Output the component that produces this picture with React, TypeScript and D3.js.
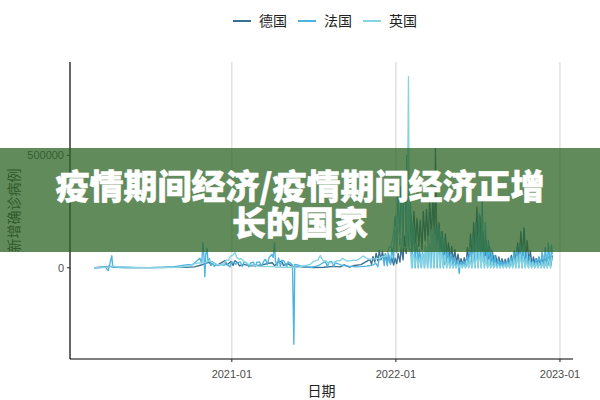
import * as d3 from 'd3'

type Pt = [string, number]

// 每日新增确诊病例（单位：千例）
const germany: Pt[] = [
  ['2020-03-01', 0], ['2020-03-20', 3], ['2020-04-02', 6], ['2020-04-20', 2], ['2020-05-15', 0.5],
  ['2020-07-01', 0.4], ['2020-08-15', 1.5], ['2020-09-20', 2], ['2020-10-10', 4], ['2020-10-25', 12],
  ['2020-11-05', 20], ['2020-11-12', 24], ['2020-11-16', 10], ['2020-11-20', 23], ['2020-11-30', 12],
  ['2020-12-10', 24], ['2020-12-17', 32], ['2020-12-21', 12], ['2020-12-30', 28], ['2021-01-04', 10],
  ['2021-01-08', 31], ['2021-01-14', 22], ['2021-01-18', 8], ['2021-01-28', 15], ['2021-02-10', 8],
  ['2021-02-25', 10], ['2021-03-10', 13], ['2021-03-24', 20], ['2021-04-01', 22], ['2021-04-06', 9],
  ['2021-04-15', 26], ['2021-04-22', 29], ['2021-04-26', 10], ['2021-05-05', 18], ['2021-05-17', 5],
  ['2021-05-27', 6], ['2021-06-10', 3], ['2021-07-01', 0.8], ['2021-07-25', 2], ['2021-08-15', 6],
  ['2021-08-30', 4], ['2021-09-08', 13], ['2021-09-20', 3], ['2021-10-01', 10], ['2021-10-15', 14],
  ['2021-10-28', 28], ['2021-11-04', 37], ['2021-11-08', 15], ['2021-11-11', 50], ['2021-11-15', 25],
  ['2021-11-18', 65], ['2021-11-22', 30], ['2021-11-25', 76], ['2021-11-29', 35], ['2021-12-02', 73],
  ['2021-12-06', 28], ['2021-12-09', 60], ['2021-12-13', 20], ['2021-12-16', 55], ['2021-12-20', 18],
  ['2021-12-23', 44], ['2021-12-27', 12], ['2021-12-30', 42],
  ['2022-01-03', 18], ['2022-01-06', 64], ['2022-01-10', 25], ['2022-01-13', 92], ['2022-01-17', 35],
  ['2022-01-20', 140], ['2022-01-24', 63], ['2022-01-27', 190], ['2022-01-31', 80], ['2022-02-03', 235],
  ['2022-02-07', 95], ['2022-02-10', 250], ['2022-02-14', 110], ['2022-02-17', 220], ['2022-02-21', 95],
  ['2022-02-24', 210], ['2022-02-28', 80], ['2022-03-03', 250], ['2022-03-07', 120], ['2022-03-10', 260],
  ['2022-03-14', 110], ['2022-03-17', 300], ['2022-03-21', 125], ['2022-03-24', 320], ['2022-03-28', 130],
  ['2022-03-30', 530], ['2022-04-01', 220], ['2022-04-04', 90], ['2022-04-07', 200], ['2022-04-11', 60],
  ['2022-04-14', 160], ['2022-04-18', 15], ['2022-04-21', 150], ['2022-04-25', 45], ['2022-04-28', 110],
  ['2022-05-02', 30], ['2022-05-05', 95], ['2022-05-09', 25], ['2022-05-12', 80], ['2022-05-16', 20],
  ['2022-05-19', 60], ['2022-05-23', 15], ['2022-05-26', 40], ['2022-05-30', 12], ['2022-06-02', 45],
  ['2022-06-06', 8], ['2022-06-09', 90], ['2022-06-13', 20], ['2022-06-16', 150], ['2022-06-20', 30],
  ['2022-06-23', 200], ['2022-06-27', 40], ['2022-06-30', 270], ['2022-07-04', 35], ['2022-07-07', 230],
  ['2022-07-11', 30], ['2022-07-14', 160], ['2022-07-18', 25], ['2022-07-21', 120], ['2022-07-25', 20],
  ['2022-07-28', 95], ['2022-08-01', 15], ['2022-08-04', 70], ['2022-08-08', 12], ['2022-08-11', 55],
  ['2022-08-15', 10], ['2022-08-18', 48], ['2022-08-22', 10], ['2022-08-25', 40], ['2022-08-29', 8],
  ['2022-09-01', 38], ['2022-09-05', 8], ['2022-09-08', 42], ['2022-09-12', 10], ['2022-09-15', 55],
  ['2022-09-19', 14], ['2022-09-22', 75], ['2022-09-26', 22], ['2022-09-29', 110], ['2022-10-03', 30],
  ['2022-10-06', 160], ['2022-10-10', 45], ['2022-10-13', 178], ['2022-10-17', 35], ['2022-10-20', 120],
  ['2022-10-24', 22], ['2022-10-27', 75], ['2022-10-31', 12], ['2022-11-03', 48], ['2022-11-07', 9],
  ['2022-11-10', 40], ['2022-11-14', 8], ['2022-11-17', 35], ['2022-11-21', 6], ['2022-11-24', 36],
  ['2022-11-28', 7], ['2022-12-01', 40], ['2022-12-05', 10], ['2022-12-08', 50], ['2022-12-12', 12],
  ['2022-12-15', 55],
]

const france: Pt[] = [
  ['2020-03-01', 0], ['2020-03-15', 1], ['2020-03-25', 4], ['2020-04-01', -13], ['2020-04-03', 5],
  ['2020-04-09', 53], ['2020-04-11', 3], ['2020-04-20', 2], ['2020-05-10', 1], ['2020-06-01', 0.5],
  ['2020-07-01', 0.5], ['2020-08-01', 2], ['2020-08-25', 5], ['2020-09-10', 9], ['2020-09-25', 14],
  ['2020-10-05', 12], ['2020-10-15', 30], ['2020-10-22', 42], ['2020-10-26', 20], ['2020-10-29', 111],
  ['2020-10-31', 50], ['2020-11-02', -40], ['2020-11-04', 60], ['2020-11-07', 86], ['2020-11-09', 25],
  ['2020-11-12', 40], ['2020-11-16', 10], ['2020-11-19', 28], ['2020-11-23', 5], ['2020-11-27', 13],
  ['2020-12-01', 9], ['2020-12-05', 13], ['2020-12-10', 14], ['2020-12-15', 11], ['2020-12-18', 17],
  ['2020-12-22', 15], ['2020-12-28', 3], ['2020-12-31', 25],
  ['2021-01-06', 25], ['2021-01-10', 15], ['2021-01-15', 23], ['2021-01-20', 26], ['2021-01-24', 5],
  ['2021-01-28', 25], ['2021-02-02', 24], ['2021-02-08', 4], ['2021-02-12', 21], ['2021-02-18', 25],
  ['2021-02-22', 5], ['2021-02-26', 25], ['2021-03-04', 26], ['2021-03-08', 5], ['2021-03-13', 29],
  ['2021-03-17', 38], ['2021-03-21', 15], ['2021-03-25', 45], ['2021-03-31', 59], ['2021-04-03', 46],
  ['2021-04-06', 111], ['2021-04-08', 30], ['2021-04-12', 8], ['2021-04-15', 44], ['2021-04-19', 6],
  ['2021-04-22', 33], ['2021-04-27', 30], ['2021-05-03', 4], ['2021-05-06', 26], ['2021-05-12', 19],
  ['2021-05-16', 12], ['2021-05-19', -340], ['2021-05-21', 15], ['2021-05-27', 13], ['2021-06-03', 8],
  ['2021-06-10', 6], ['2021-06-17', 3], ['2021-06-28', 2], ['2021-07-08', 7], ['2021-07-15', 12],
  ['2021-07-22', 21], ['2021-07-28', 27], ['2021-08-02', 5], ['2021-08-05', 25], ['2021-08-11', 28],
  ['2021-08-16', 6], ['2021-08-19', 22], ['2021-08-26', 17], ['2021-09-02', 11], ['2021-09-09', 9],
  ['2021-09-16', 7], ['2021-09-23', 6], ['2021-10-05', 4], ['2021-10-15', 5], ['2021-10-28', 7],
  ['2021-11-05', 10], ['2021-11-12', 13], ['2021-11-17', 20], ['2021-11-22', 5], ['2021-11-24', 32],
  ['2021-11-30', 47], ['2021-12-03', 50], ['2021-12-06', 10], ['2021-12-08', 62], ['2021-12-13', 8],
  ['2021-12-15', 65], ['2021-12-20', 15], ['2021-12-23', 90], ['2021-12-27', 30], ['2021-12-29', 208],
  ['2021-12-31', 230],
  ['2022-01-03', 67], ['2022-01-05', 335], ['2022-01-07', 260], ['2022-01-10', 100], ['2022-01-12', 360],
  ['2022-01-14', 300], ['2022-01-17', 100], ['2022-01-19', 430], ['2022-01-21', 400], ['2022-01-24', 100],
  ['2022-01-25', 500], ['2022-01-27', 390], ['2022-01-31', 90], ['2022-02-02', 300], ['2022-02-04', 200],
  ['2022-02-06', 0], ['2022-02-08', 200], ['2022-02-10', 160], ['2022-02-13', 0], ['2022-02-15', 110],
  ['2022-02-17', 100], ['2022-02-20', 0], ['2022-02-22', 80], ['2022-02-24', 60], ['2022-02-27', 0],
  ['2022-03-01', 70], ['2022-03-03', 55], ['2022-03-06', 0], ['2022-03-08', 80], ['2022-03-10', 75],
  ['2022-03-13', 0], ['2022-03-15', 110], ['2022-03-17', 90], ['2022-03-20', 0], ['2022-03-22', 150],
  ['2022-03-24', 150], ['2022-03-27', 0], ['2022-03-29', 180], ['2022-03-31', 170], ['2022-04-03', 0],
  ['2022-04-05', 190], ['2022-04-07', 170], ['2022-04-10', 0], ['2022-04-12', 160], ['2022-04-14', 130],
  ['2022-04-17', 0], ['2022-04-19', 130], ['2022-04-21', 100], ['2022-04-24', 0], ['2022-04-26', 80],
  ['2022-04-28', 60], ['2022-05-01', 0], ['2022-05-03', 60], ['2022-05-05', 45], ['2022-05-08', 0],
  ['2022-05-10', 45], ['2022-05-12', 35], ['2022-05-15', 0], ['2022-05-17', 30], ['2022-05-19', 25],
  ['2022-05-22', -25], ['2022-05-24', 25], ['2022-05-26', 20], ['2022-05-29', 0], ['2022-05-31', 30],
  ['2022-06-02', 25], ['2022-06-05', 0], ['2022-06-07', 40], ['2022-06-09', 50], ['2022-06-12', 0],
  ['2022-06-14', 90], ['2022-06-16', 90], ['2022-06-19', 0], ['2022-06-21', 150], ['2022-06-23', 110],
  ['2022-06-26', 0], ['2022-06-28', 200], ['2022-06-30', 140], ['2022-07-03', 0], ['2022-07-05', 240],
  ['2022-07-07', 140], ['2022-07-10', 0], ['2022-07-12', 316], ['2022-07-14', 100], ['2022-07-17', 0],
  ['2022-07-19', 200], ['2022-07-21', 90], ['2022-07-24', 0], ['2022-07-26', 120], ['2022-07-28', 60],
  ['2022-07-31', 0], ['2022-08-02', 80], ['2022-08-04', 40], ['2022-08-07', 0], ['2022-08-09', 55],
  ['2022-08-11', 30], ['2022-08-14', 0], ['2022-08-16', 40], ['2022-08-18', 25], ['2022-08-21', 0],
  ['2022-08-23', 30], ['2022-08-25', 20], ['2022-08-28', 0], ['2022-08-30', 30], ['2022-09-01', 20],
  ['2022-09-04', 0], ['2022-09-06', 35], ['2022-09-08', 22], ['2022-09-11', 0], ['2022-09-13', 50],
  ['2022-09-15', 35], ['2022-09-18', 0], ['2022-09-20', 70], ['2022-09-22', 50], ['2022-09-25', 0],
  ['2022-09-27', 90], ['2022-09-29', 60], ['2022-10-02', 0], ['2022-10-04', 110], ['2022-10-06', 70],
  ['2022-10-09', 0], ['2022-10-11', 100], ['2022-10-13', 60], ['2022-10-16', 0], ['2022-10-18', 70],
  ['2022-10-20', 40], ['2022-10-23', 0], ['2022-10-25', 50], ['2022-10-27', 30], ['2022-10-30', 0],
  ['2022-11-01', 30], ['2022-11-03', 25], ['2022-11-06', 0], ['2022-11-08', 40], ['2022-11-10', 30],
  ['2022-11-13', 0], ['2022-11-15', 50], ['2022-11-17', 40], ['2022-11-20', 0], ['2022-11-22', 70],
  ['2022-11-24', 55], ['2022-11-27', 0], ['2022-11-29', 90], ['2022-12-01', 60], ['2022-12-04', 0],
  ['2022-12-06', 110], ['2022-12-08', 70], ['2022-12-11', 0], ['2022-12-13', 100], ['2022-12-15', 60],
]

const uk: Pt[] = [
  ['2020-03-01', 0], ['2020-03-20', 1], ['2020-04-05', 5], ['2020-04-10', 8], ['2020-04-20', 4],
  ['2020-05-10', 3], ['2020-06-01', 1.5], ['2020-07-01', 0.6], ['2020-08-01', 0.8], ['2020-09-01', 1.5],
  ['2020-09-15', 4], ['2020-09-28', 7], ['2020-10-05', 15], ['2020-10-15', 19], ['2020-10-22', 22],
  ['2020-10-29', 24], ['2020-11-05', 25], ['2020-11-12', 33], ['2020-11-20', 21], ['2020-11-30', 13],
  ['2020-12-08', 14], ['2020-12-15', 19], ['2020-12-20', 35], ['2020-12-25', 32], ['2020-12-29', 53],
  ['2021-01-01', 53], ['2021-01-04', 58], ['2021-01-08', 68], ['2021-01-12', 45], ['2021-01-17', 38],
  ['2021-01-22', 40], ['2021-01-28', 28], ['2021-02-03', 19], ['2021-02-10', 13], ['2021-02-18', 12],
  ['2021-02-25', 9], ['2021-03-05', 6], ['2021-03-15', 5], ['2021-03-25', 6], ['2021-04-10', 3],
  ['2021-04-25', 2], ['2021-05-10', 2], ['2021-05-25', 3], ['2021-06-05', 6], ['2021-06-15', 10],
  ['2021-06-25', 15], ['2021-07-01', 27], ['2021-07-08', 32], ['2021-07-12', 35], ['2021-07-15', 48],
  ['2021-07-17', 54], ['2021-07-20', 40], ['2021-07-24', 29], ['2021-07-29', 31], ['2021-08-03', 21],
  ['2021-08-10', 23], ['2021-08-17', 26], ['2021-08-24', 31], ['2021-08-31', 32], ['2021-09-04', 42],
  ['2021-09-08', 37], ['2021-09-14', 30], ['2021-09-21', 31], ['2021-09-28', 34], ['2021-10-05', 33],
  ['2021-10-12', 40], ['2021-10-18', 49], ['2021-10-21', 52], ['2021-10-27', 43], ['2021-11-03', 37],
  ['2021-11-10', 39], ['2021-11-17', 40], ['2021-11-24', 43], ['2021-12-01', 48], ['2021-12-08', 51],
  ['2021-12-12', 54], ['2021-12-15', 78], ['2021-12-17', 93], ['2021-12-20', 91], ['2021-12-22', 106],
  ['2021-12-24', 122], ['2021-12-29', 183],
  ['2022-01-01', 162], ['2022-01-04', 218], ['2022-01-06', 179], ['2022-01-09', 141], ['2022-01-12', 130],
  ['2022-01-15', 81], ['2022-01-18', 94], ['2022-01-21', 89], ['2022-01-24', 89], ['2022-01-26', 100],
  ['2022-01-29', 850], ['2022-01-31', 90], ['2022-02-02', 80], ['2022-02-05', 0], ['2022-02-07', 60],
  ['2022-02-09', 60], ['2022-02-12', 0], ['2022-02-14', 40], ['2022-02-16', 50], ['2022-02-19', 0],
  ['2022-02-21', 30], ['2022-02-23', 45], ['2022-02-26', 0], ['2022-02-28', 60], ['2022-03-02', 60],
  ['2022-03-05', 0], ['2022-03-07', 100], ['2022-03-09', 80], ['2022-03-12', 0], ['2022-03-14', 140],
  ['2022-03-16', 100], ['2022-03-19', 0], ['2022-03-21', 170], ['2022-03-23', 110], ['2022-03-26', 0],
  ['2022-03-28', 150], ['2022-03-30', 110], ['2022-04-02', 0], ['2022-04-04', 120], ['2022-04-06', 70],
  ['2022-04-09', 0], ['2022-04-11', 80], ['2022-04-13', 45], ['2022-04-16', 0], ['2022-04-19', 55],
  ['2022-04-21', 30], ['2022-04-24', 0], ['2022-04-26', 40], ['2022-04-28', 25], ['2022-05-01', 0],
  ['2022-05-03', 25], ['2022-05-05', 15], ['2022-05-08', 0], ['2022-05-10', 18], ['2022-05-12', 12],
  ['2022-05-15', 0], ['2022-05-17', 15], ['2022-05-19', 10], ['2022-05-22', 0], ['2022-05-24', 14],
  ['2022-05-26', 10], ['2022-05-29', 0], ['2022-05-31', 15], ['2022-06-02', 10], ['2022-06-05', 0],
  ['2022-06-07', 30], ['2022-06-09', 20], ['2022-06-12', 0], ['2022-06-14', 45], ['2022-06-16', 25],
  ['2022-06-19', 0], ['2022-06-21', 60], ['2022-06-23', 30], ['2022-06-26', 0], ['2022-06-28', 70],
  ['2022-06-30', 40], ['2022-07-03', 0], ['2022-07-05', 80], ['2022-07-07', 40], ['2022-07-10', 0],
  ['2022-07-12', 70], ['2022-07-14', 30], ['2022-07-17', 0], ['2022-07-19', 50], ['2022-07-21', 20],
  ['2022-07-24', 0], ['2022-07-26', 35], ['2022-07-28', 15], ['2022-07-31', 0], ['2022-08-02', 25],
  ['2022-08-04', 12], ['2022-08-07', 0], ['2022-08-09', 20], ['2022-08-11', 10], ['2022-08-14', 0],
  ['2022-08-16', 15], ['2022-08-18', 8], ['2022-08-21', 0], ['2022-08-23', 12], ['2022-08-25', 8],
  ['2022-08-28', 0], ['2022-08-30', 15], ['2022-09-01', 10], ['2022-09-04', 0], ['2022-09-06', 20],
  ['2022-09-08', 12], ['2022-09-11', 0], ['2022-09-13', 30], ['2022-09-15', 18], ['2022-09-18', 0],
  ['2022-09-20', 40], ['2022-09-22', 25], ['2022-09-25', 0], ['2022-09-27', 50], ['2022-09-29', 30],
  ['2022-10-02', 0], ['2022-10-04', 60], ['2022-10-06', 35], ['2022-10-09', 0], ['2022-10-11', 50],
  ['2022-10-13', 30], ['2022-10-16', 0], ['2022-10-18', 40], ['2022-10-20', 20], ['2022-10-23', 0],
  ['2022-10-25', 30], ['2022-10-27', 15], ['2022-10-30', 0], ['2022-11-01', 25], ['2022-11-03', 12],
  ['2022-11-06', 0], ['2022-11-08', 20], ['2022-11-10', 12], ['2022-11-13', 0], ['2022-11-15', 22],
  ['2022-11-17', 12], ['2022-11-20', 0], ['2022-11-22', 25], ['2022-11-24', 15], ['2022-11-27', 0],
  ['2022-11-29', 30], ['2022-12-01', 20], ['2022-12-04', 0], ['2022-12-06', 40], ['2022-12-08', 30],
  ['2022-12-11', 0], ['2022-12-13', 45], ['2022-12-15', 30],
]

const seriesNames = ['德国', '法国', '英国']
const seriesColors = ['#3b6f91', '#4cb3df', '#86d3e2']
const seriesData = [germany, france, uk]

const xTicks = ['2021-01-01', '2022-01-01', '2023-01-01']
const xTickLabels = ['2021-01', '2022-01', '2023-01']
const yTicks = [0, 500000]
const xDomain = ['2020-01-07', '2023-01-30']
const yDomain = [-406000, 915000]

const title = ['疫情期间经济/疫情期间经济正增', '长的国家']

const parse = d3.timeParse('%Y-%m-%d')

export default function App() {
  const width = 600
  const height = 400
  const m = {left: 70, right: 573, top: 62, bottom: 359}

  const x = d3.scaleTime()
    .domain(xDomain.map(d => parse(d) as Date))
    .range([m.left, m.right])
  const y = d3.scaleLinear().domain(yDomain).range([m.bottom, m.top])

  const line = d3.line<Pt>()
    .x(d => x(parse(d[0]) as Date))
    .y(d => y(d[1] * 1000))

  const cjk = '"Noto Sans CJK SC", "Noto Sans", sans-serif'
  const latin = '"Liberation Sans", Arial, sans-serif'

  return (
    <svg
      width={width}
      height={height}
      style={{position: 'absolute', left: 0, top: 0, background: '#fff'}}
    >
      {/* 网格线 */}
      {xTicks.map(t => (
        <line
          key={t}
          x1={x(parse(t) as Date)}
          x2={x(parse(t) as Date)}
          y1={m.top}
          y2={m.bottom}
          stroke={'#d6d6d6'}
          strokeWidth={1.1}
        />
      ))}

      {/* 折线 */}
      {seriesData.map((data, i) => (
        <path
          key={seriesNames[i]}
          d={line(data) ?? undefined}
          fill={'none'}
          stroke={seriesColors[i]}
          strokeWidth={1.35}
          strokeLinejoin={'round'}
        />
      ))}

      {/* 坐标轴 */}
      <line x1={m.left} x2={m.left} y1={m.top} y2={m.bottom} stroke={'#000'} strokeWidth={1.2} />
      <line x1={m.left} x2={m.right} y1={m.bottom} y2={m.bottom} stroke={'#000'} strokeWidth={1.2} />
      {yTicks.map(t => (
        <g key={t}>
          <line x1={m.left - 3} x2={m.left} y1={y(t)} y2={y(t)} stroke={'#333'} strokeWidth={1.1} />
          <text
            x={m.left - 6}
            y={y(t)}
            dy={'0.35em'}
            textAnchor={'end'}
            fontFamily={latin}
            fontSize={11}
            fill={'#4d4d4d'}
          >
            {t}
          </text>
        </g>
      ))}
      {xTicks.map((t, i) => (
        <g key={t}>
          <line
            x1={x(parse(t) as Date)}
            x2={x(parse(t) as Date)}
            y1={m.bottom}
            y2={m.bottom + 3}
            stroke={'#333'}
            strokeWidth={1.1}
          />
          <text
            x={x(parse(t) as Date)}
            y={m.bottom + 19}
            textAnchor={'middle'}
            fontFamily={latin}
            fontSize={11}
            fill={'#4d4d4d'}
          >
            {xTickLabels[i]}
          </text>
        </g>
      ))}
      <text
        x={(m.left + m.right) / 2}
        y={396}
        textAnchor={'middle'}
        fontFamily={cjk}
        fontSize={14}
        fill={'#222'}
      >
        日期
      </text>
      <text
        transform={`translate(14, ${(m.top + m.bottom) / 2}) rotate(-90)`}
        textAnchor={'middle'}
        dy={'0.35em'}
        fontFamily={cjk}
        fontSize={14}
        fill={'#333'}
      >
        新增确诊病例
      </text>

      {/* 图例 */}
      {seriesNames.map((name, i) => (
        <g key={name} transform={`translate(${233 + i * 65}, 21)`}>
          <line x1={0} x2={18} y1={0} y2={0} stroke={seriesColors[i]} strokeWidth={2} />
          <text x={26} dy={'0.36em'} fontFamily={cjk} fontSize={14} fill={'#222'}>
            {name}
          </text>
        </g>
      ))}

      {/* 标题横幅 */}
      <rect x={0} y={148} width={width} height={104} fill={'rgb(45, 100, 38)'} opacity={0.75} />
      {title.map((t, i) => (
        <text
          key={t}
          x={width / 2}
          y={199 + i * 37}
          textAnchor={'middle'}
          fontFamily={cjk}
          fontSize={34}
          fontWeight={900}
          fill={'#fff'}
          stroke={'#fff'}
          strokeWidth={0.5}
          strokeLinejoin={'round'}
        >
          {t}
        </text>
      ))}
    </svg>
  )
}
